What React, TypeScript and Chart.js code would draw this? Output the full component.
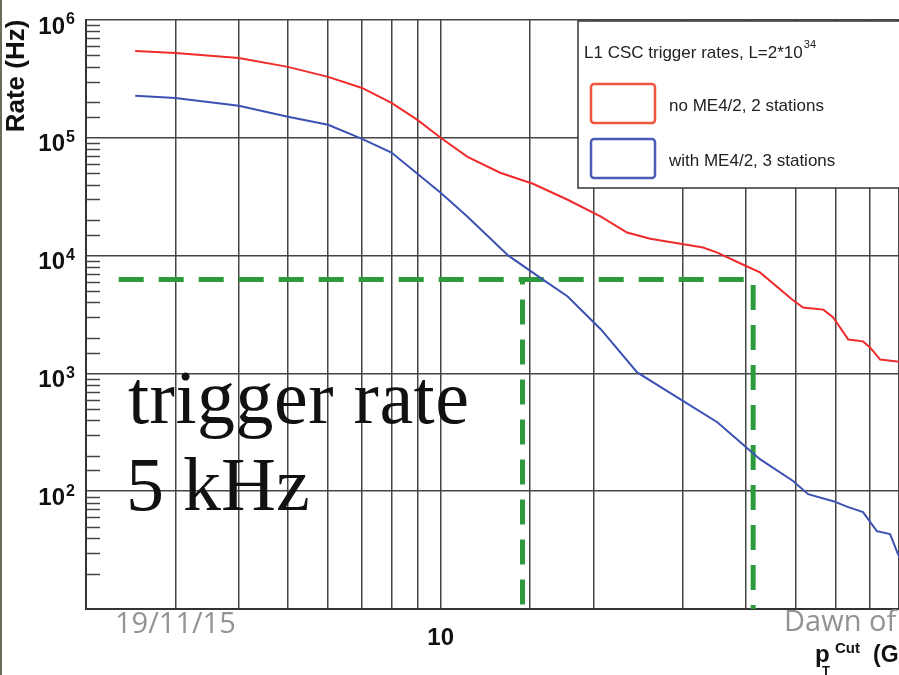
import React, { useEffect, useRef } from 'react';
import { Chart, registerables } from 'chart.js';

Chart.register(...registerables);

// ---- data ----
const ptRed = [2.5, 3, 4, 5, 6, 7, 8, 9, 10, 11.3, 13.1, 15.2, 17.8, 20.7, 23.3, 25.9, 29.7, 32.9, 35.1, 39.4, 42.6, 49.3, 51.8, 56.8, 59.4, 63.6, 68.0, 70.2, 73.5, 79.4, 85];
const rateRed = [5.46e5, 5.25e5, 4.76e5, 4.0e5, 3.29e5, 2.65e5, 1.98e5, 1.42e5, 1.0e5, 6.9e4, 5.05e4, 4.07e4, 2.98e4, 2.14e4, 1.57e4, 1.39e4, 1.26e4, 1.17e4, 1.06e4, 8.4e3, 7.2e3, 4.24e3, 3.62e3, 3.48e3, 2.98e3, 1.94e3, 1.87e3, 1.66e3, 1.31e3, 1.26e3, 1.25e3];
const ptBlue = [2.5, 3, 4, 5, 6, 7, 8, 9, 10, 11.3, 13.6, 15.7, 17.8, 20.7, 24.4, 29.7, 35.1, 39.8, 42.6, 49.5, 53.0, 59.4, 63.6, 68.0, 72.4, 76.9, 79.4, 81];
const rateBlue = [2.27e5, 2.18e5, 1.87e5, 1.51e5, 1.29e5, 9.8e4, 7.5e4, 4.95e4, 3.42e4, 2.14e4, 1.0e4, 6.5e3, 4.5e3, 2.36e3, 1.02e3, 602, 385, 241, 187, 122, 94.4, 82.3, 73.2, 66.4, 45.8, 43.2, 30.4, 25];

const cutRate = 6270;
const cutPtStart = 2.32;
const cutPtLow = 14.5;
const cutPtHigh = 41.3;

const xMin = 2;
const xMax = 100;
const yMin = 10;
const yMax = 1e6;

const yTickExponents = [2, 3, 4, 5, 6];
const xTickValues = [10];
const xTickLabels = ['10'];

const seriesNames = ['no ME4/2, 2 stations', 'with ME4/2, 3 stations'];
const legendTitle = 'L1 CSC trigger rates, L=2*10';
const legendTitleSup = '34';
const yTitle = 'Rate (Hz)';
const annotationLines = ['trigger rate', '5 kHz'];
const footerLeft = '19/11/15';
const footerRight = 'Dawn of';

const RED = '#ef2b2b';
const BLUE = '#3b52b4';
const GREEN = '#2e9a3e';
const GRID = '#454545';
const SANS = '"Liberation Sans", Arial, sans-serif';

const isMajor = (v: number) => Math.abs(Math.log10(v) - Math.round(Math.log10(v))) < 1e-6;

const overlayPlugin = {
  id: 'overlay',
  afterDatasetsDraw(chart: any) {
    const { ctx, chartArea, scales } = chart;
    const ys = scales.y;
    ctx.save();
    // minor ticks on the y axis, inside the frame
    ctx.strokeStyle = GRID;
    ctx.lineWidth = 1.5;
    ys.ticks.forEach((t: any) => {
      if (!isMajor(t.value)) {
        const py = Math.round(ys.getPixelForValue(t.value)) + 0.5;
        ctx.beginPath();
        ctx.moveTo(chartArea.left, py);
        ctx.lineTo(chartArea.left + 14, py);
        ctx.stroke();
      }
    });

    // legend box
    const lx = 578, ly = 21, lw = 420, lh = 167;
    ctx.fillStyle = '#ffffff';
    ctx.fillRect(lx, ly, lw, lh);
    ctx.strokeStyle = '#333';
    ctx.lineWidth = 1.5;
    ctx.strokeRect(lx, ly, lw, lh);

    ctx.fillStyle = '#222';
    ctx.textBaseline = 'alphabetic';
    ctx.textAlign = 'left';
    ctx.font = `17px ${SANS}`;
    ctx.fillText(legendTitle, 584, 58);
    const tw = ctx.measureText(legendTitle).width;
    ctx.font = `11px ${SANS}`;
    ctx.fillText(legendTitleSup, 584 + tw + 1, 48);

    const boxes = [
      { y: 84, color: '#f0553f', label: seriesNames[0] },
      { y: 139, color: '#4a5db6', label: seriesNames[1] },
    ];
    boxes.forEach((b) => {
      ctx.strokeStyle = b.color;
      ctx.lineWidth = 2.5;
      ctx.beginPath();
      (ctx as any).roundRect(591, b.y, 64, 39, 3);
      ctx.stroke();
      ctx.fillStyle = '#222';
      ctx.font = `17px ${SANS}`;
      ctx.textBaseline = 'middle';
      ctx.fillText(b.label, 669, b.y + 22);
    });
    ctx.restore();
  },
  afterDraw(chart: any) {
    const { ctx, chartArea, scales } = chart;
    const ys = scales.y;
    ctx.save();
    // y tick labels 10^n
    ctx.fillStyle = '#111';
    yTickExponents.forEach((e) => {
      const py = ys.getPixelForValue(Math.pow(10, e));
      ctx.font = `bold 24px ${SANS}`;
      ctx.textAlign = 'right';
      ctx.textBaseline = 'middle';
      ctx.fillText('10', chartArea.left - 21, py + 7);
      ctx.font = `bold 16px ${SANS}`;
      ctx.textAlign = 'left';
      ctx.fillText(String(e), chartArea.left - 20, py);
    });

    // y title
    ctx.save();
    ctx.translate(17, 76);
    ctx.rotate(-Math.PI / 2);
    ctx.font = `bold 26px ${SANS}`;
    ctx.textAlign = 'center';
    ctx.textBaseline = 'middle';
    ctx.fillText(yTitle, 0, 0);
    ctx.restore();

    // x title p_T^Cut (GeV)
    ctx.textAlign = 'left';
    ctx.textBaseline = 'alphabetic';
    ctx.font = `bold 24px ${SANS}`;
    ctx.fillText('p', 815, 662);
    ctx.font = `bold 13px ${SANS}`;
    ctx.fillText('T', 822, 675);
    ctx.font = `bold 15px ${SANS}`;
    ctx.fillText('Cut', 835, 653);
    ctx.font = `bold 23px ${SANS}`;
    ctx.fillText('(GeV)', 873, 662);

    // big annotation text
    ctx.fillStyle = '#111';
    ctx.font = '76px "Liberation Serif", "Times New Roman", serif';
    (ctx as any).letterSpacing = '0.5px';
    ctx.fillText(annotationLines[0], 128, 423);
    (ctx as any).letterSpacing = '0px';
    ctx.fillText(annotationLines[1], 126, 510);

    // slide footer
    ctx.fillStyle = '#939393';
    ctx.font = '29px "Open Sans", sans-serif';
    ctx.fillText(footerLeft, 115, 633);
    ctx.fillText(footerRight, 784, 631);
    ctx.restore();
  },
};

export default function App() {
  const ref = useRef<HTMLCanvasElement | null>(null);

  useEffect(() => {
    if (!ref.current) return;
    const chart = new Chart(ref.current, {
      type: 'line',
      data: {
        datasets: [
          {
            label: seriesNames[0],
            data: ptRed.map((x, i) => ({ x, y: rateRed[i] })),
            borderColor: RED,
            borderWidth: 2,
            pointRadius: 0,
            tension: 0,
            fill: false,
          },
          {
            label: seriesNames[1],
            data: ptBlue.map((x, i) => ({ x, y: rateBlue[i] })),
            borderColor: BLUE,
            borderWidth: 2,
            pointRadius: 0,
            tension: 0,
            fill: false,
          },
          {
            label: 'cut high',
            data: [
              { x: cutPtStart, y: cutRate },
              { x: cutPtHigh, y: cutRate },
              { x: cutPtHigh, y: yMin },
            ],
            borderColor: GREEN,
            borderWidth: 5,
            borderDash: [25, 15],
            pointRadius: 0,
            tension: 0,
            fill: false,
          },
          {
            label: 'cut low',
            data: [
              { x: cutPtLow, y: cutRate },
              { x: cutPtLow, y: yMin },
            ],
            borderColor: GREEN,
            borderWidth: 5,
            borderDash: [25, 15],
            borderDashOffset: 20,
            pointRadius: 0,
            tension: 0,
            fill: false,
          },
        ],
      },
      options: {
        responsive: false,
        devicePixelRatio: 1,
        animation: false,
        layout: { padding: { top: 20, right: 52, left: 0, bottom: 0 } },
        plugins: { legend: { display: false }, tooltip: { enabled: false } },
        scales: {
          x: {
            type: 'logarithmic',
            min: xMin,
            max: xMax,
            afterFit: (s: any) => { s.height = 66; },
            grid: { color: GRID, lineWidth: 1.5, drawTicks: false },
            border: { color: '#333', width: 2 },
            ticks: {
              autoSkip: false,
              maxRotation: 0,
              padding: 15,
              color: '#111',
              font: { family: SANS, weight: 'bold', size: 24 },
              callback: (v: any) => {
                const i = xTickValues.findIndex((t) => Math.abs(t - Number(v)) < 1e-9);
                return i >= 0 ? xTickLabels[i] : '';
              },
            },
          },
          y: {
            type: 'logarithmic',
            min: yMin,
            max: yMax,
            afterFit: (s: any) => { s.width = 86; },
            grid: {
              color: (c: any) => (c.tick && isMajor(c.tick.value) ? GRID : 'rgba(0,0,0,0)'),
              lineWidth: 1.5,
              drawTicks: false,
            },
            border: { color: '#333', width: 2 },
            ticks: { display: false, autoSkip: false },
          },
        },
      },
      plugins: [overlayPlugin],
    } as any);
    return () => chart.destroy();
  }, []);

  return (
    <div style={{ position: 'fixed', left: 0, top: 0, width: 899, height: 675, overflow: 'hidden', background: '#fff' }}>
      <canvas ref={ref} width={1000} height={675} style={{ display: 'block', width: 1000, height: 675 }} />
      <div style={{ position: 'absolute', left: 0, top: 0, width: 2, height: 675, background: '#6b6b5e' }} />
    </div>
  );
}
